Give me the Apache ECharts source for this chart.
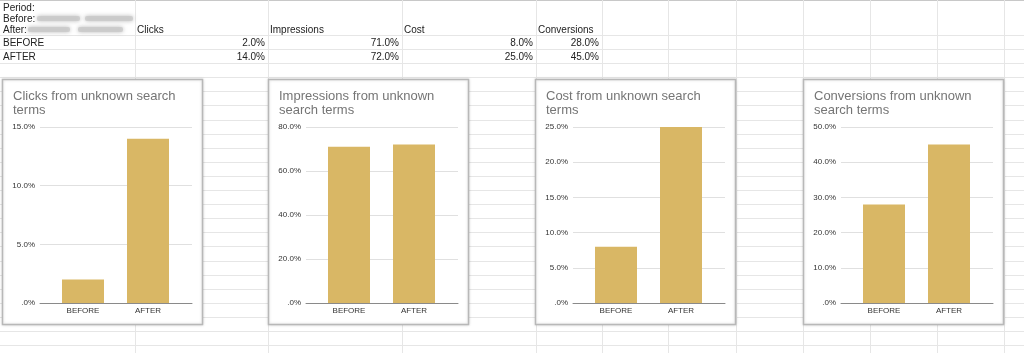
<!DOCTYPE html>
<html>
<head>
<meta charset="utf-8">
<script src="https://cdn.jsdelivr.net/npm/echarts@6/dist/echarts.min.js"></script>
<style>
html,body{margin:0;padding:0;background:#fff;}
#c{width:1024px;height:353px;}
</style>
</head>
<body>
<div id="c"></div>
<script>
// ---- data ----
const categories = ['BEFORE', 'AFTER'];
const metrics = ['Clicks', 'Impressions', 'Cost', 'Conversions'];
const beforeValues = [2.0, 71.0, 8.0, 28.0];
const afterValues = [14.0, 72.0, 25.0, 45.0];
const chartTitles = [
  'Clicks from unknown search\nterms',
  'Impressions from unknown\nsearch terms',
  'Cost from unknown search\nterms',
  'Conversions from unknown\nsearch terms'
];
const axisMax = [15, 80, 25, 50];
const axisInterval = [5, 20, 5, 10];

// ---- layout ----
const FONT = 'Liberation Sans, Arial, Helvetica, sans-serif';
const colLines = [135, 268, 402, 536, 602, 668, 736, 803, 870, 937, 1004];
const chartLefts = [2, 268, 535, 803];
const chartTop = 79, chartBottom = 324, chartW = 200;
const plotTop = 127, plotBottom = 303;

const fmt = v => (v === 0 ? '.0%' : v.toFixed(1) + '%');

const graphics = [];
// spreadsheet gridlines
graphics.push({type:'line', shape:{x1:0,y1:0.5,x2:1024,y2:0.5}, style:{stroke:'#c8c8c8', lineWidth:1}, z:0});
for (let y = 35; y < 353; y += 14.1) {
  const yy = Math.round(y) + 0.5;
  graphics.push({type:'line', shape:{x1:0,y1:yy,x2:1024,y2:yy}, style:{stroke:'#e6e6e6', lineWidth:1}, z:0});
}
colLines.forEach(x => {
  graphics.push({type:'line', shape:{x1:x+0.5,y1:0,x2:x+0.5,y2:353}, style:{stroke:'#e6e6e6', lineWidth:1}, z:0});
});
// table text
const txt = (t, x, y, align) => graphics.push({type:'text', x:x, y:y, z:5,
  style:{text:t, fill:'#222', font:'10px ' + FONT, textAlign:align||'left', textVerticalAlign:'middle'}});
txt('Period:', 3, 8);
txt('Before:', 3, 19);
txt('After:', 3, 30);
// redacted (blurred) dates
[[37,16,43],[85,16,48],[28,27,42],[78,27,45]].forEach(r => {
  graphics.push({type:'rect', z:4, shape:{x:r[0], y:r[1], width:r[2], height:5, r:2},
    style:{fill:'#c9c9c9', shadowBlur:4, shadowColor:'rgba(160,160,160,0.9)', opacity:0.8}});
});
const colStarts = [135, 268, 402, 536];
const colEnds = [268, 402, 536, 602];
metrics.forEach((m, i) => {
  txt(m, colStarts[i] + 2, 30);
  txt(fmt(beforeValues[i]), colEnds[i] - 3, 43, 'right');
  txt(fmt(afterValues[i]), colEnds[i] - 3, 57, 'right');
});
txt(categories[0], 3, 43);
txt(categories[1], 3, 57);
// chart boxes
chartLefts.forEach(L => {
  graphics.push({type:'rect', z:6, shape:{x:L+0.5, y:chartTop+0.5, width:chartW, height:chartBottom-chartTop},
    style:{fill:'#fff', stroke:'#b8b8b8', lineWidth:1.5, shadowBlur:3, shadowColor:'rgba(0,0,0,0.15)'}});
});

const grid = [], xAxis = [], yAxis = [], series = [], title = [];
metrics.forEach((m, i) => {
  const L = chartLefts[i];
  title.push({text: chartTitles[i], left: L + 11, top: 89, padding: 0, z: 20,
    textStyle:{fontFamily:FONT, fontSize:13, lineHeight:14, fontWeight:'normal', color:'#757575'}});
  // grid A: value axis, gridlines, baseline
  grid.push({left: L + 38, top: plotTop, width: 152, height: plotBottom - plotTop, containLabel:false, z:10});
  // grid B: bars & category labels
  grid.push({left: L + 48.5, top: plotTop, width: 130, height: plotBottom - plotTop, containLabel:false, z:10});
  const ga = i*2, gb = i*2+1;
  xAxis.push({gridIndex: ga, type:'value', min:0, max:1, z:14,
    axisLine:{show:true, onZero:false, lineStyle:{color:'#8a8a8a', width:1}},
    axisTick:{show:false}, axisLabel:{show:false}, splitLine:{show:false}});
  xAxis.push({gridIndex: gb, type:'category', data: categories, z:14,
    axisLine:{show:false}, axisTick:{show:false},
    axisLabel:{fontFamily:FONT, fontSize:8, color:'#333', margin:4}});
  yAxis.push({gridIndex: ga, type:'value', min:0, max:axisMax[i], interval:axisInterval[i], z:12,
    axisLine:{show:false}, axisTick:{show:false},
    axisLabel:{fontFamily:FONT, fontSize:8, color:'#333', margin:5, formatter: fmt},
    splitLine:{lineStyle:{color:'#e0e0e0', width:1}}});
  yAxis.push({gridIndex: gb, type:'value', min:0, max:axisMax[i], show:false, splitLine:{show:false}});
  series.push({type:'bar', xAxisIndex: gb, yAxisIndex: gb, barWidth: 42, z:13,
    data: [beforeValues[i], afterValues[i]],
    itemStyle:{color:'#d9b765'}, silent:true});
});

const chart = echarts.init(document.getElementById('c'), null, {renderer:'canvas'});
chart.setOption({
  animation:false,
  backgroundColor:'#fff',
  title, grid, xAxis, yAxis, series,
  graphic: graphics
});
</script>
</body>
</html>
